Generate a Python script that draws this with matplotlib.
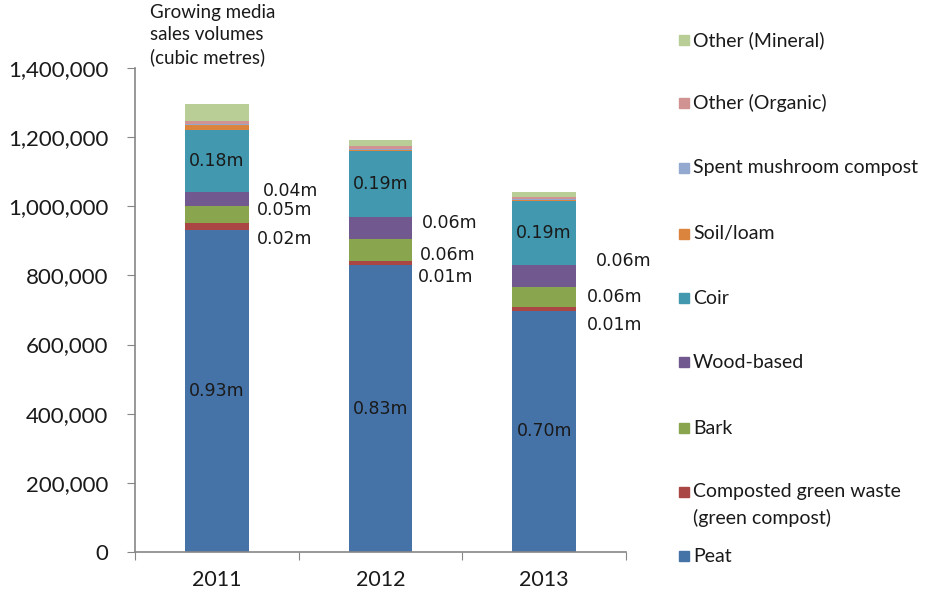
import matplotlib
matplotlib.use("Agg")
import matplotlib.pyplot as plt
from matplotlib.patches import Rectangle

years = ["2011", "2012", "2013"]
peat = [932000, 830000, 698000]
green_waste = [20000, 13000, 12000]
bark = [49000, 62000, 57000]
wood = [40000, 64000, 62000]
coir = [180000, 191000, 186000]
soil = [14000, 3000, 3000]
mushroom = [3000, 2000, 2000]
organic = [8000, 8000, 8000]
mineral = [50000, 20000, 14000]

series = [
    ("Peat", peat, "#4572A7"),
    ("Composted green waste\n(green compost)", green_waste, "#AA4643"),
    ("Bark", bark, "#89A54E"),
    ("Wood-based", wood, "#71588F"),
    ("Coir", coir, "#4198AF"),
    ("Soil/loam", soil, "#DB843D"),
    ("Spent mushroom compost", mushroom, "#93A9CF"),
    ("Other (Organic)", organic, "#D19392"),
    ("Other (Mineral)", mineral, "#B9CD96"),
]

# label offsets (pixels) for the small segments shown to the right of each bar
side_offsets = {
    "Composted green waste\n(green compost)": [(8, -13), (5, -14), (11, -16)],
    "Bark": [(8, 4), (7, -5), (11, 0)],
    "Wood-based": [(14, 8), (9, 5), (20, 15)],
}
inside = ["Peat", "Coir"]

axis_font = "Lato"
label_font = "DejaVu Sans"
text_col = "#1a1a1a"
spine_col = "#868686"

fig = plt.figure(figsize=(9.27, 6.01), dpi=100)
ax = fig.add_axes([135 / 927, 1 - 552 / 601, (626 - 135) / 927, (552 - 68) / 601])

x = list(range(len(years)))
width = 0.39
bottom = [0] * len(years)
for name, vals, col in series:
    ax.bar(x, vals, width, bottom=bottom, color=col, edgecolor="none")
    for i, v in enumerate(vals):
        lab = f"{v / 1e6:.2f}m"
        if name in inside:
            ax.text(x[i], bottom[i] + v / 2, lab, ha="center", va="center",
                    fontsize=12.5, family=label_font, color=text_col)
        elif name in side_offsets:
            dx, dy = side_offsets[name][i]
            ax.annotate(lab, (x[i] + width / 2, bottom[i] + v / 2),
                        xytext=(dx * 0.72, dy * 0.72), textcoords="offset points",
                        ha="left", va="center", fontsize=12.5,
                        family=label_font, color=text_col)
    bottom = [b + v for b, v in zip(bottom, vals)]

ax.set_xlim(-0.5, len(years) - 0.5)
ax.set_ylim(0, 1400000)
ax.set_yticks(range(0, 1400001, 200000))
ax.set_yticklabels([f"{t:,}" for t in range(0, 1400001, 200000)],
                   family=axis_font, fontsize=16, color=text_col)
ax.set_xticks([i - 0.5 for i in range(len(years) + 1)])
ax.set_xticklabels([])
ax.set_xticks(x, minor=True)
ax.set_xticklabels(years, minor=True, family=axis_font, fontsize=15.5, color=text_col)
ax.tick_params(axis="x", which="major", length=6, color=spine_col, direction="out")
ax.tick_params(axis="x", which="minor", length=0, pad=13)
ax.tick_params(axis="y", length=6, color=spine_col, direction="out", pad=13)
for s in ["top", "right"]:
    ax.spines[s].set_visible(False)
for s in ["left", "bottom"]:
    ax.spines[s].set_color(spine_col)
    ax.spines[s].set_linewidth(1.2)

fig.text(150 / 927, 1 - 4 / 601, "Growing media\nsales volumes\n(cubic metres)",
         ha="left", va="top", family=axis_font, fontsize=13.5, color=text_col,
         linespacing=1.35)

# legend on the right, drawn top to bottom in reverse stacking order
legend_y = [556, 492, 428, 362, 298, 234, 168, 103, 40]
leg_fs = 14
for (name, vals, col), yp in zip(series, legend_y):
    fig.add_artist(Rectangle((679 / 927, 1 - (yp + 5) / 601), 10 / 927, 10 / 601,
                             transform=fig.transFigure, color=col))
    fig.text(693 / 927, 1 - yp / 601, name.split("\n")[0], ha="left", va="center",
             family=axis_font, fontsize=leg_fs, color=text_col)
    if "\n" in name:
        fig.text(693 / 927, 1 - (yp + 26) / 601, name.split("\n")[1], ha="left",
                 va="center", family=axis_font, fontsize=leg_fs, color=text_col)

fig.savefig("out.png", dpi=100)
